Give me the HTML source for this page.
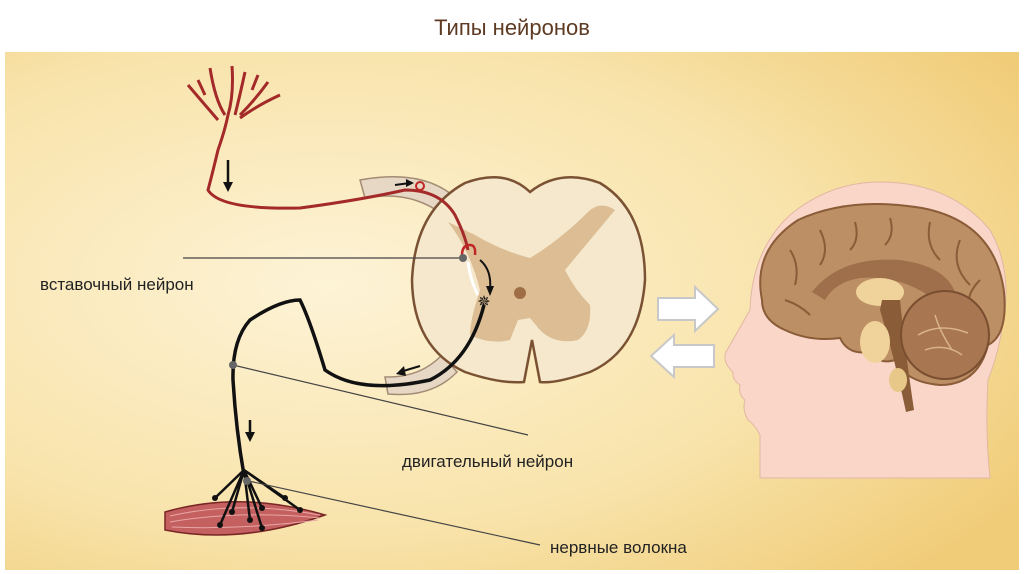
<!DOCTYPE html>
<html><head><meta charset="utf-8"><style>
html,body{margin:0;padding:0;width:1024px;height:574px;overflow:hidden;background:#fff}
svg{display:block}
text{font-family:"Liberation Sans","DejaVu Sans",sans-serif}
</style></head><body>
<svg width="1024" height="574" viewBox="0 0 1024 574">
<defs>
<radialGradient id="bg" cx="0.32" cy="0.45" r="0.8">
<stop offset="0" stop-color="#fdf3d6"/><stop offset="0.6" stop-color="#f8e3aa"/><stop offset="1" stop-color="#f0cc78"/>
</radialGradient>
</defs>
<rect x="0" y="0" width="1024" height="574" fill="#fff"/>
<rect x="5" y="52" width="1014" height="518" fill="url(#bg)"/>
<text x="512" y="35" font-size="22" fill="#5e3a22" text-anchor="middle">Типы нейронов</text>

<path d="M360,180 Q425,168 458,200 L442,214 Q410,190 365,198 Z" fill="#e6d8c4" stroke="#a48c74" stroke-width="1.5"/>
<path d="M442,355 Q420,378 385,377 L388,394 Q432,398 457,372 Z" fill="#e6d8c4" stroke="#a48c74" stroke-width="1.5"/>

<path d="M530,192 Q560,168 600,183 Q645,210 645,280 Q640,350 590,372 Q555,384 540,382 L532,340 L524,382 Q500,384 465,372 Q413,348 412,280 Q415,210 465,183 Q505,168 530,192 Z" fill="#f5e8cc" stroke="#7a5233" stroke-width="2.5"/>
<path d="M448,222 Q470,250 480,290 Q470,320 470,335 Q490,345 510,340 L518,320 L530,318 L540,330 Q555,345 578,340 Q592,330 590,305 Q575,290 565,270 Q590,240 615,210 Q600,200 588,212 Q560,240 530,258 Q500,250 475,235 Z" fill="#dcbd94"/>
<circle cx="520" cy="293" r="6" fill="#a06e45"/>

<path d="M210,68 Q215,100 225,115 M188,85 Q205,105 218,120 M232,66 Q234,95 228,115 M245,72 Q240,95 235,115 M268,82 Q255,100 240,115 M280,95 Q258,105 240,118 M198,80 L205,95 M258,75 L252,90 M228,115 Q225,130 218,150 Q212,175 208,190 Q220,210 300,208 Q360,200 405,190 Q440,190 455,215 Q465,235 468,250" fill="none" stroke="#a42a2a" stroke-width="3"/>
<circle cx="420" cy="186" r="4" fill="none" stroke="#c02626" stroke-width="2"/>
<path d="M462,255 Q462,245 470,245 Q476,245 475,255" fill="none" stroke="#c02626" stroke-width="2.5"/>
<path d="M228,160 L228,185" stroke="#111" stroke-width="2.5"/><path d="M223,182 L228,192 L233,182 Z" fill="#111"/>
<path d="M395,185 L410,183" stroke="#111" stroke-width="2"/><path d="M406,179 L414,183 L406,187 Z" fill="#111"/>

<path d="M468,262 Q470,280 478,295" fill="none" stroke="#fff" stroke-width="3"/>
<path d="M480,260 Q492,270 490,290" fill="none" stroke="#111" stroke-width="2"/><path d="M486,286 L490,296 L494,286 Z" fill="#111"/>
<text x="484" y="307" font-size="16" fill="#111" text-anchor="middle">✵</text>

<path d="M484,305 Q470,360 430,380 Q360,395 325,370 Q310,320 300,300 Q280,300 250,320 Q232,340 233,380 Q236,430 244,475" fill="none" stroke="#111" stroke-width="3.5"/>
<path d="M400,372 L420,366" stroke="#111" stroke-width="2"/><path d="M404,366 L396,374 L406,376 Z" fill="#111"/>
<path d="M250,420 L250,435" stroke="#111" stroke-width="2.5"/><path d="M245,432 L250,442 L255,432 Z" fill="#111"/>

<path d="M165,512 Q240,490 325,515 Q240,545 165,530 Z" fill="#c46060" stroke="#7a2626" stroke-width="1.5"/>
<path d="M170,516 Q240,500 320,515 M170,522 Q240,510 320,518 M172,527 Q240,530 318,520" stroke="#e9a6a6" fill="none"/>
<path d="M244,470 L215,498 M244,470 L232,512 M244,470 L250,520 M244,470 L262,508 M244,470 L285,498 M244,470 L300,510 M244,470 L220,525 M244,470 L262,528" stroke="#111" stroke-width="2.5" fill="none"/>
<g fill="#111"><circle cx="215" cy="498" r="3"/><circle cx="232" cy="512" r="3"/><circle cx="250" cy="520" r="3"/><circle cx="262" cy="508" r="3"/><circle cx="285" cy="498" r="3"/><circle cx="300" cy="510" r="3"/><circle cx="220" cy="525" r="3"/><circle cx="262" cy="528" r="3"/></g>

<g stroke="#444" stroke-width="1.2"><line x1="183" y1="258" x2="463" y2="258"/><line x1="233" y1="365" x2="528" y2="435"/><line x1="244" y1="480" x2="540" y2="545"/></g>
<g fill="#666"><circle cx="463" cy="258" r="4"/><circle cx="233" cy="365" r="4"/><circle cx="247" cy="481" r="4"/></g>
<text x="40" y="290" font-size="17" fill="#222">вставочный нейрон</text>
<text x="402" y="467" font-size="17" fill="#222">двигательный нейрон</text>
<text x="550" y="553" font-size="17" fill="#222">нервные волокна</text>

<path d="M658,298 L695,298 L695,287 L718,309 L695,331 L695,320 L658,320 Z" fill="#fff" stroke="#c8c8c8" stroke-width="2"/>
<path d="M714,345 L674,345 L674,335 L651,356 L674,377 L674,367 L714,367 Z" fill="#fff" stroke="#c8c8c8" stroke-width="2"/>

<path d="M760,478 L760,435 Q755,425 748,420 Q742,410 745,400 Q738,395 740,385 Q732,380 733,372 Q722,362 726,352 L750,310 Q752,250 790,215 Q830,182 880,182 Q950,182 990,230 Q1010,265 1005,310 Q1000,350 988,380 Q985,430 990,478 Z" fill="#fad6c8" stroke="#e2b7a3" stroke-width="1"/>
<path d="M762,300 Q752,250 798,220 Q850,196 922,208 Q995,222 1004,292 Q1008,335 988,345 Q978,385 940,385 Q905,382 895,360 Q880,365 868,352 Q848,355 840,338 Q810,342 785,330 Q762,320 762,300 Z" fill="#bd8f65" stroke="#8a5c38" stroke-width="2"/>
<g fill="none" stroke="#8a5c38" stroke-width="2"><path d="M790,250 Q800,265 795,285"/><path d="M820,230 Q830,250 820,265"/><path d="M855,222 Q860,240 850,250"/><path d="M890,218 Q895,235 885,245"/><path d="M930,222 Q925,245 940,260"/><path d="M960,240 Q950,265 970,285"/><path d="M980,280 Q960,300 975,320"/><path d="M785,300 Q800,305 810,315"/></g>
<path d="M812,292 Q840,256 900,260 Q945,266 955,292 L932,298 Q900,275 860,278 Q835,282 825,300 Z" fill="#9e6f4a"/>
<ellipse cx="880" cy="292" rx="24" ry="14" fill="#f0d39a"/>
<path d="M882,300 L900,300 Q905,350 914,410 L906,412 Q895,360 880,310 Z" fill="#8a5c38"/>
<ellipse cx="875" cy="342" rx="15" ry="21" fill="#f0d39a"/>
<ellipse cx="898" cy="380" rx="9" ry="12" fill="#e8c888"/>
<circle cx="945" cy="335" r="44" fill="#a87650" stroke="#7a4e30" stroke-width="2"/>
<path d="M918,335 Q940,322 968,333 M935,315 Q940,332 952,350 M925,350 Q945,343 962,355" stroke="#d9b48a" fill="none" stroke-width="1.5"/>
</svg>
</body></html>
